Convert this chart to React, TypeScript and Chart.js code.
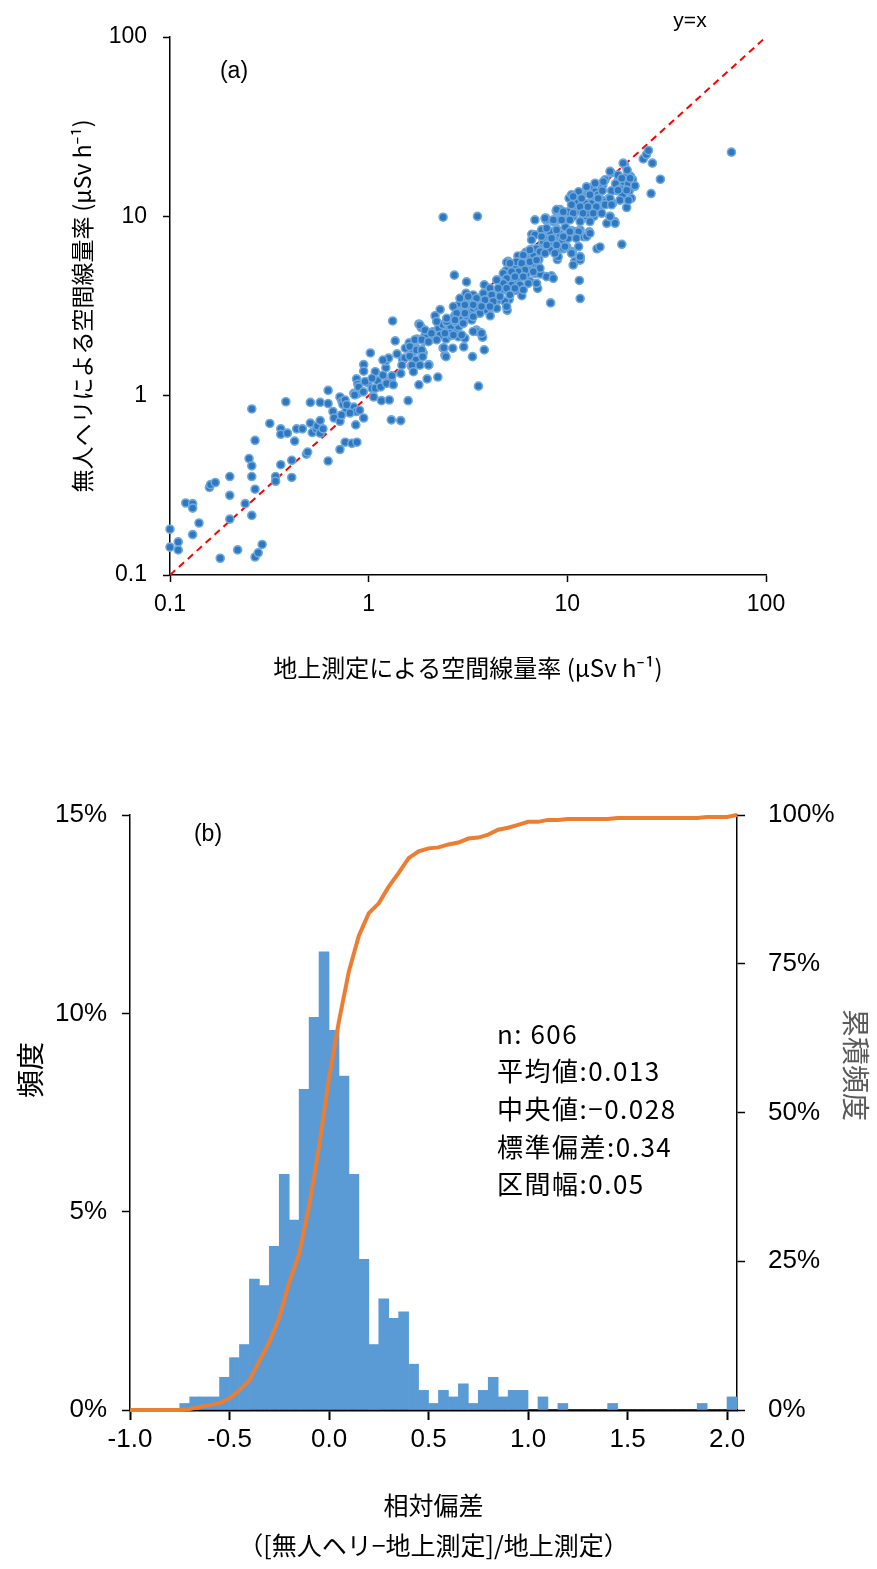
import React, { useEffect, useRef } from 'react';
import { Chart, registerables } from 'chart.js';

Chart.register(...registerables);

// ---------- (a) scatter: ground measurement vs unmanned helicopter (µSv/h) ----------
// overview points
const groundRate = [
  0.10, 0.10, 0.11, 0.11, 0.12, 0.13, 0.13, 0.13, 0.14, 0.158, 0.16, 0.169, 0.179, 0.20, 0.20, 0.20, 0.219, 0.239, 0.25, 0.258,
  0.258, 0.258, 0.258, 0.268, 0.268, 0.268, 0.278, 0.291, 0.318, 0.34, 0.34, 0.361, 0.361, 0.361, 0.383, 0.39, 0.41, 0.41, 0.424, 0.434,
  0.464, 0.486, 0.493, 0.509, 0.509, 0.52, 0.545, 0.552, 0.57, 0.57, 0.57, 0.589, 0.625, 0.625, 0.625, 0.661, 0.67, 0.717, 0.717, 0.717,
  0.734, 0.741, 0.762, 0.769, 0.823, 0.842, 0.842, 0.861, 0.869, 0.873, 0.944, 0.881, 0.989, 1.04, 1.06, 1.08, 0.944, 0.944, 1.02, 0.869,
  0.881, 0.869, 1.11, 1.15, 1.16, 1.22, 1.22, 1.26, 1.27, 1.30, 1.30, 1.32, 1.36, 1.45, 1.48, 1.58, 1.64, 1.67, 1.69, 1.74,
  1.79, 1.79, 1.84, 1.85, 1.88, 1.90, 1.97, 2.01, 2.06, 2.10, 2.16, 2.20, 2.23, 2.29, 2.33, 2.37, 2.42, 2.45, 2.53, 2.59,
  2.65, 2.70, 2.65, 2.71, 2.77, 2.80, 2.88, 2.93, 3.01, 3.04, 3.11, 3.18, 3.27, 3.33, 3.41, 3.49, 3.57, 3.65, 3.73, 3.82,
  3.82, 3.91, 4.00, 4.09, 4.19, 4.35, 4.45, 4.59, 4.70, 4.92, 4.98, 5.03, 5.10, 5.14, 5.26, 5.38, 5.51, 5.64, 5.77, 5.90,
  5.98, 6.18, 6.27, 6.38, 6.47, 6.62, 6.68, 6.77, 6.87, 6.93, 7.09, 7.19, 7.32, 7.43, 7.53, 7.67, 7.78, 7.89, 8.13, 8.24,
  8.32, 8.51, 8.63, 8.71, 8.79, 8.91, 9.12, 9.33, 9.46, 9.55, 10.2, 10.3, 10.5, 10.6, 10.9, 11.0, 11.2, 11.4, 11.5, 11.6,
  11.6, 11.7, 12.0, 12.1, 12.3, 12.6, 12.9, 13.0, 13.3, 13.5, 13.8, 14.1, 14.4, 14.6, 14.8, 15.1, 15.5, 15.8, 16.2, 16.4,
  16.6, 16.9, 17.3, 17.7, 18.1, 18.6, 18.8, 19.2, 19.4, 19.7, 19.9, 20.3, 20.8, 21.0, 21.8, 24.1, 25.0, 25.6, 26.4, 26.8,
  29.4, 67.0, 2.37, 3.53,
  1.39, 1.53, 1.60, 1.75, 1.92, 2.10, 2.25, 2.36, 2.47, 2.59, 2.75, 2.84, 2.97, 3.11, 3.25, 3.36, 3.57, 3.68, 3.85, 3.96,
  4.15, 4.29, 4.49, 4.63, 4.81, 4.96, 5.21, 5.33, 5.46, 5.58, 5.72, 5.82, 6.04, 6.21, 6.32, 6.50, 6.75, 7.00, 7.16, 7.36,
  7.60, 7.95, 8.40, 8.83, 9.20, 9.77, 10.7, 11.1, 11.9, 12.5, 13.2, 13.6, 14.3, 15.0, 15.7, 16.7, 17.5, 18.4, 19.0, 19.9,
  20.5, 21.3,
];

const heliRate = [
  0.18, 0.143, 0.153, 0.138, 0.252, 0.25, 0.236, 0.168, 0.195, 0.308, 0.319, 0.328, 0.124, 0.354, 0.278, 0.205, 0.138, 0.25, 0.446, 0.843,
  0.406, 0.354, 0.215, 0.563, 0.301, 0.126, 0.133, 0.148, 0.70, 0.354, 0.333, 0.653, 0.609, 0.412, 0.925, 0.618, 0.35, 0.436, 0.558, 0.653,
  0.653, 0.472, 0.485, 0.917, 0.703, 0.623, 0.653, 0.678, 0.917, 0.726, 0.618, 0.653, 1.07, 0.904, 0.432, 0.816, 0.75, 0.983, 0.72, 0.501,
  0.929, 0.895, 0.55, 0.816, 0.542, 0.863, 1.03, 0.687, 0.816, 0.55, 0.75, 1.03, 1.18, 1.10, 0.983, 1.10, 1.49, 1.37, 1.73, 1.24,
  1.16, 1.02, 1.21, 1.12, 0.938, 1.43, 1.56, 1.62, 0.946, 0.733, 1.24, 2.61, 2.02, 0.726, 1.60, 0.938, 1.46, 1.75, 1.97, 1.84,
  1.15, 2.51, 2.40, 1.64, 1.73, 2.02, 1.24, 1.49, 2.07, 2.14, 2.79, 2.16, 1.27, 3.02, 2.25, 1.84, 1.68, 2.07, 2.38, 2.16,
  1.84, 4.70, 2.61, 2.79, 2.32, 2.99, 2.16, 3.21, 1.87, 3.44, 4.31, 2.99, 3.18, 1.65, 3.44, 2.32, 1.13, 2.25, 2.13, 1.80,
  4.15, 3.48, 2.99, 2.79, 3.81, 3.14, 4.39, 3.44, 3.96, 4.99, 2.99, 5.61, 3.44, 4.15, 4.77, 4.45, 3.87, 6.01, 5.23, 3.61,
  4.77, 6.30, 5.48, 4.99, 4.35, 7.94, 6.54, 5.48, 4.81, 6.01, 3.96, 5.74, 4.77, 8.32, 7.08, 6.44, 9.79, 7.58, 6.92, 3.29,
  4.66, 9.35, 7.58, 6.59, 10.7, 5.74, 9.57, 10.7, 7.41, 6.59, 12.6, 10.3, 8.32, 6.30, 5.61, 8.20, 13.2, 10.7, 4.39, 3.48,
  5.87, 12.6, 9.79, 7.69, 13.6, 11.8, 8.20, 10.5, 14.5, 12.1, 13.7, 6.59, 11.0, 6.75, 12.4, 14.9, 16.0, 9.14, 12.6, 10.0,
  17.5, 11.8, 9.35, 13.9, 16.1, 12.4, 6.98, 15.6, 19.4, 13.9, 11.2, 15.2, 16.7, 12.6, 14.7, 20.9, 22.1, 23.3, 13.4, 19.8,
  16.1, 22.8, 9.89, 10.0,
  1.71, 1.84, 1.97, 2.07, 2.16, 2.27, 2.38, 2.49, 2.55, 2.43, 2.55, 2.43, 2.67, 2.79, 2.93, 3.07, 3.29, 3.36, 3.14, 3.61,
  3.44, 3.61, 3.78, 4.15, 4.25, 3.87, 3.96, 4.99, 5.23, 4.77, 4.55, 5.61, 5.23, 4.77, 6.01, 5.74, 6.15, 6.59, 5.23, 6.30,
  7.58, 8.32, 7.94, 8.51, 7.94, 8.71, 10.0, 11.5, 11.0, 10.0, 11.8, 10.0, 13.2, 13.9, 12.1, 13.9, 15.2, 14.2, 13.2, 16.7,
  13.9, 16.0,
];

// dense band, 0.7–5 µSv/h
const groundRateBand1 = [
  4.76, 4.95, 3.09, 3.36, 3.56, 3.92, 4.24, 4.58, 4.85, 2.88, 3.17, 3.49, 3.85, 4.16, 4.41, 4.95, 2.77, 3.05, 3.30, 3.63,
  2.20, 2.47, 2.72, 2.99, 1.81, 1.92, 2.07, 2.29, 2.57, 2.83, 3.05, 3.49, 3.75, 1.71, 1.85, 2.00, 2.20, 2.39, 2.45, 1.61,
  1.74, 1.85, 1.52, 1.61, 1.73, 1.87, 2.00, 1.47, 1.65, 1.81, 1.68, 1.18, 1.08, 1.18, 1.31, 1.45, 0.96, 1.04, 1.23, 1.33,
  0.89, 0.85, 0.94, 0.76, 0.775, 0.90, 0.805, 0.73,
];
const heliRateBand1 = [
  4.81, 5.54, 3.72, 3.64, 3.49, 3.42, 3.57, 3.80, 3.35, 3.27, 3.21, 3.14, 3.01, 3.21, 3.07, 3.14, 2.94, 2.88, 2.64, 2.88,
  2.59, 2.59, 2.59, 2.53, 2.48, 2.32, 2.23, 2.18, 2.23, 2.13, 2.09, 2.28, 2.12, 2.05, 2.05, 2.00, 2.05, 1.85, 1.65, 1.88,
  1.80, 1.80, 1.62, 1.66, 1.58, 1.65, 1.48, 1.48, 1.48, 1.48, 1.36, 1.58, 1.36, 1.30, 1.29, 1.33, 1.20, 1.25, 1.17, 1.15,
  1.12, 1.01, 1.05, 0.946, 0.89, 0.83, 0.80, 0.78,
];

// dense band, 2–13 µSv/h
const groundRateBand2 = [
  10.5, 11.6, 12.5, 11.1, 12.3, 12.5, 10.1, 9.18, 8.66, 9.54, 7.80, 6.87, 10.7, 11.6, 12.5, 8.17, 7.42, 6.87, 6.61, 7.56,
  8.50, 9.00, 9.54, 8.17, 7.28, 6.48, 6.00, 5.55, 5.14, 5.89, 6.48, 7.00, 7.28, 6.74, 6.12, 5.66, 5.24, 4.95, 5.45, 6.00,
  4.76, 5.24, 5.77, 6.36, 7.00, 4.41, 4.08, 4.49, 4.95, 5.45, 6.00, 3.78, 4.16, 4.58, 5.14, 3.49, 3.85, 4.24, 3.17, 2.88,
  2.67, 3.05, 3.36, 3.70, 4.08, 2.77, 3.05, 3.36, 2.47, 2.72, 2.99, 2.42, 2.67, 2.94, 3.36, 3.70, 9.00, 7.86, 8.50, 10.5,
  11.6, 10.7, 10.1, 9.92,
];
const heliRateBand2 = [
  13.2, 13.4, 14.3, 12.1, 11.8, 10.4, 10.6, 10.9, 9.55, 9.55, 9.55, 9.55, 8.22, 8.40, 7.71, 8.22, 8.40, 7.88, 7.39, 7.23,
  7.23, 6.50, 6.64, 6.50, 6.36, 6.50, 6.08, 5.58, 5.47, 5.47, 5.58, 5.70, 5.13, 4.91, 5.02, 4.91, 4.91, 4.51, 4.61, 4.61,
  4.23, 4.14, 4.14, 4.23, 4.23, 4.42, 3.97, 3.97, 3.97, 3.97, 3.89, 3.72, 3.65, 3.57, 3.65, 3.49, 3.42, 3.35, 3.57, 3.49,
  3.14, 3.21, 3.21, 3.14, 3.14, 2.88, 2.88, 2.76, 2.70, 2.64, 2.53, 2.23, 2.18, 2.18, 2.28, 2.23, 5.96, 4.61, 4.51, 6.36,
  5.70, 5.35, 7.55, 6.78,
];

// dense band, 6–22 µSv/h
const groundRateBand3 = [
  19.1, 20.0, 18.0, 16.4, 18.8, 20.7, 21.9, 19.9, 18.0, 15.2, 13.8, 12.5, 11.4, 10.7, 11.8, 13.0, 14.3, 16.4, 18.4, 20.3,
  10.5, 11.6, 12.7, 14.0, 15.5, 16.7, 8.83, 9.54, 10.7, 12.0, 13.5, 14.9, 7.72, 8.50, 9.36, 10.3, 11.6, 13.0, 16.4, 17.4,
  7.87, 8.83, 10.3, 11.4, 13.0, 7.42, 8.33, 9.54, 11.1, 7.87, 8.83, 9.73, 11.4, 7.72, 8.66, 10.5, 11.6,
];
const heliRateBand3 = [
  19.8, 18.1, 17.0, 17.8, 16.3, 16.3, 14.8, 14.0, 14.0, 15.6, 15.3, 14.6, 13.7, 12.9, 12.6, 13.2, 12.6, 12.6, 12.3, 12.3,
  11.6, 11.3, 11.3, 11.3, 11.6, 11.6, 10.9, 10.6, 10.4, 10.4, 10.4, 10.4, 9.75, 9.55, 9.55, 9.55, 9.35, 9.35, 9.97, 9.15,
  8.58, 8.40, 8.22, 8.22, 8.05, 7.71, 7.55, 7.71, 7.55, 6.93, 6.93, 6.78, 6.78, 6.22, 6.22, 6.22, 5.96,
];

const identityX = [0.1, 100];
const identityY = [0.1, 100];
const logTicks = [0.1, 1, 10, 100];

// ---------- (b) histogram of relative deviation ----------
const binFirstEdge = -1.0;
const binWidth = 0.05;
const binCounts = [
  0, 0, 0, 0, 0, 1, 2, 2, 2, 5, 8, 10, 20, 19, 25, 36, 29, 49, 60, 70,
  58, 51, 36, 23, 10, 17, 14, 15, 7, 3, 1, 3, 2, 4, 1, 3, 5, 2, 3, 3,
  0, 2, 0, 1, 0, 0, 0, 0, 1, 0, 0, 0, 0, 0, 0, 0, 0, 1, 0, 0,
  2,
];
const totalN = 606;
const devTicks = [-1.0, -0.5, 0.0, 0.5, 1.0, 1.5, 2.0];
const freqTicks = [0, 5, 10, 15];
const cumTicks = [0, 25, 50, 75, 100];
const statLines = ['n: 606', '平均値:0.013', '中央値:−0.028', '標準偏差:0.34', '区間幅:0.05'];

const LAT = "'Liberation Sans', Arial, sans-serif";
const CJK = "'Noto Sans CJK JP', 'Noto Sans', sans-serif";

type TextItem = {
  text: string; dx: number; dy: number; font: string; color: string;
  align: CanvasTextAlign; rot?: number; spacing?: string;
};

function textPlugin(id: string, items: TextItem[]) {
  return {
    id,
    afterDraw(chart: any) {
      const { ctx, chartArea } = chart;
      items.forEach((it) => {
        ctx.save();
        ctx.font = it.font;
        ctx.fillStyle = it.color;
        ctx.textAlign = it.align;
        ctx.textBaseline = 'middle';
        if (it.spacing) (ctx as any).letterSpacing = it.spacing;
        ctx.translate(chartArea.left + it.dx, chartArea.top + it.dy);
        if (it.rot) ctx.rotate(it.rot);
        ctx.fillText(it.text, 0, 0);
        ctx.restore();
      });
    },
  };
}

function pairs(xs: number[], ys: number[]) {
  return xs.map((x, i) => ({ x, y: ys[i] }));
}

export default function App() {
  const refA = useRef<HTMLCanvasElement | null>(null);
  const refB = useRef<HTMLCanvasElement | null>(null);

  useEffect(() => {
    if (!refA.current) return;
    const points = [
      ...pairs(groundRate, heliRate),
      ...pairs(groundRateBand1, heliRateBand1),
      ...pairs(groundRateBand2, heliRateBand2),
      ...pairs(groundRateBand3, heliRateBand3),
    ];
    const idLine = pairs(identityX, identityY);
    const chart = new Chart(refA.current, {
      type: 'scatter',
      data: {
        datasets: [
          {
            type: 'scatter',
            data: points,
            backgroundColor: '#2E78C2',
            borderColor: '#6FA8DC',
            borderWidth: 1.6,
            pointRadius: 4,
            clip: false as any,
            order: 0,
          } as any,
          {
            type: 'line',
            data: idLine,
            borderColor: '#FF0000',
            borderWidth: 2,
            borderDash: [7, 5],
            pointRadius: 0,
            fill: false,
            order: 1,
          } as any,
        ],
      },
      plugins: [
        textPlugin('annA', [
          { text: '(a)', dx: 64, dy: 35, font: `23px ${LAT}`, color: '#000', align: 'center' },
          { text: 'y=x', dx: 520, dy: -16, font: `21px ${LAT}`, color: '#000', align: 'center' },
        ]),
      ],
      options: {
        responsive: false,
        animation: false,
        layout: { padding: { top: 37, right: 111, left: 0, bottom: 0 } },
        plugins: { legend: { display: false }, tooltip: { enabled: false } },
        scales: {
          x: {
            type: 'logarithmic',
            min: 0.1,
            max: 100,
            afterBuildTicks: (s: any) => { s.ticks = logTicks.map((v) => ({ value: v })); },
            afterFit: (s: any) => { s.height = 125; },
            ticks: { callback: (v: any) => String(v), font: { family: LAT, size: 23 }, color: '#000', padding: 9, autoSkip: false, maxRotation: 0 },
            grid: { drawOnChartArea: false, drawTicks: true, tickLength: 7, tickWidth: 1.5, tickColor: '#000' },
            border: { display: true, color: '#000', width: 1.5 },
            title: { display: true, text: '地上測定による空間線量率 (μSv h⁻¹)', font: { family: CJK, size: 24 }, color: '#000', padding: { top: 0, bottom: 18 } },
          } as any,
          y: {
            type: 'logarithmic',
            min: 0.1,
            max: 100,
            afterBuildTicks: (s: any) => { s.ticks = logTicks.map((v) => ({ value: v })); },
            afterFit: (s: any) => { s.width = 170; },
            ticks: { callback: (v: any) => String(v), font: { family: LAT, size: 23 }, color: '#000', padding: 16, autoSkip: false },
            grid: { drawOnChartArea: false, drawTicks: true, tickLength: 7, tickWidth: 1.5, tickColor: '#000' },
            border: { display: true, color: '#000', width: 1.5 },
            title: { display: true, text: '無人ヘリによる空間線量率 (μSv h⁻¹)', font: { family: CJK, size: 23 }, color: '#000', padding: { top: 68, bottom: 0 } },
          } as any,
        },
      },
    });
    return () => chart.destroy();
  }, []);

  useEffect(() => {
    if (!refB.current) return;
    const bars = binCounts.map((c, i) => ({ x: binFirstEdge + binWidth * (i + 0.5), y: (c / totalN) * 100 }));
    const cumLine: { x: number; y: number }[] = [{ x: binFirstEdge, y: 0 }];
    let run = 0;
    binCounts.forEach((c, i) => {
      run += c;
      cumLine.push({ x: binFirstEdge + binWidth * (i + 1), y: (run / totalN) * 100 });
    });
    const chart = new Chart(refB.current, {
      type: 'bar',
      data: {
        datasets: [
          {
            type: 'line',
            data: cumLine,
            yAxisID: 'y2',
            borderColor: '#ED7D31',
            borderWidth: 4,
            pointRadius: 0,
            fill: false,
            tension: 0,
            clip: false as any,
            order: 0,
          } as any,
          {
            type: 'bar',
            data: bars,
            yAxisID: 'y',
            backgroundColor: '#5B9BD5',
            borderWidth: 0,
            barPercentage: 1,
            categoryPercentage: 1,
            order: 1,
          } as any,
        ],
      },
      plugins: [
        textPlugin('annB', [
          { text: '(b)', dx: 78, dy: 20, font: `23px ${LAT}`, color: '#000', align: 'center' },
          { text: '頻度', dx: -100, dy: 255, font: `28px ${CJK}`, color: '#000', align: 'center', rot: -Math.PI / 2 },
          { text: '累積頻度', dx: 726, dy: 250, font: `28px ${CJK}`, color: '#595959', align: 'center', rot: Math.PI / 2 },
          ...statLines.map((t, i) => ({
            text: t, dx: 367, dy: 219 + i * 37.6, font: `26px ${CJK}`, color: '#000',
            align: 'left' as CanvasTextAlign, spacing: '1.5px',
          })),
        ]),
      ],
      options: {
        responsive: false,
        animation: false,
        layout: { padding: { top: 115, right: 0, left: 0, bottom: 0 } },
        plugins: { legend: { display: false }, tooltip: { enabled: false } },
        scales: {
          x: {
            type: 'linear',
            min: -1.0,
            max: 2.05,
            offset: false,
            afterBuildTicks: (s: any) => { s.ticks = devTicks.map((v) => ({ value: v })); },
            afterFit: (s: any) => { s.height = 159; },
            ticks: { callback: (v: any) => Number(v).toFixed(1), font: { family: LAT, size: 26 }, color: '#000', padding: 4, autoSkip: false, maxRotation: 0 },
            grid: { offset: false, drawOnChartArea: false, drawTicks: true, tickLength: 10, tickWidth: 2, tickColor: '#000' },
            border: { display: true, color: '#000', width: 2.5 },
            title: { display: true, text: ['相対偏差', '（[無人ヘリ−地上測定]/地上測定）'], font: { family: CJK, size: 25, lineHeight: 1.6 }, color: '#000', padding: { top: 0, bottom: 4 } },
          } as any,
          y: {
            type: 'linear',
            position: 'left',
            min: 0,
            max: 15,
            afterBuildTicks: (s: any) => { s.ticks = freqTicks.map((v) => ({ value: v })); },
            afterFit: (s: any) => { s.width = 130; },
            ticks: { callback: (v: any) => `${v}%`, font: { family: LAT, size: 26 }, color: '#000', padding: 15 },
            grid: { drawOnChartArea: false, drawTicks: true, tickLength: 8, tickWidth: 1.5, tickColor: '#000' },
            border: { display: true, color: '#000', width: 1.5 },
          } as any,
          y2: {
            type: 'linear',
            position: 'right',
            min: 0,
            max: 100,
            afterBuildTicks: (s: any) => { s.ticks = cumTicks.map((v) => ({ value: v })); },
            afterFit: (s: any) => { s.width = 140; },
            ticks: { callback: (v: any) => `${v}%`, font: { family: LAT, size: 26 }, color: '#000', padding: 23 },
            grid: { drawOnChartArea: false, drawTicks: true, tickLength: 8, tickWidth: 1.5, tickColor: '#000' },
            border: { display: true, color: '#000', width: 1.5 },
          } as any,
        },
      },
    });
    return () => chart.destroy();
  }, []);

  return (
    <div style={{ position: 'absolute', left: 0, top: 0, width: 877, height: 1569, background: '#fff' }}>
      <canvas ref={refA} width={877} height={700} style={{ position: 'absolute', left: 0, top: 0, width: 877, height: 700 }} />
      <canvas ref={refB} width={877} height={869} style={{ position: 'absolute', left: 0, top: 700, width: 877, height: 869 }} />
    </div>
  );
}
